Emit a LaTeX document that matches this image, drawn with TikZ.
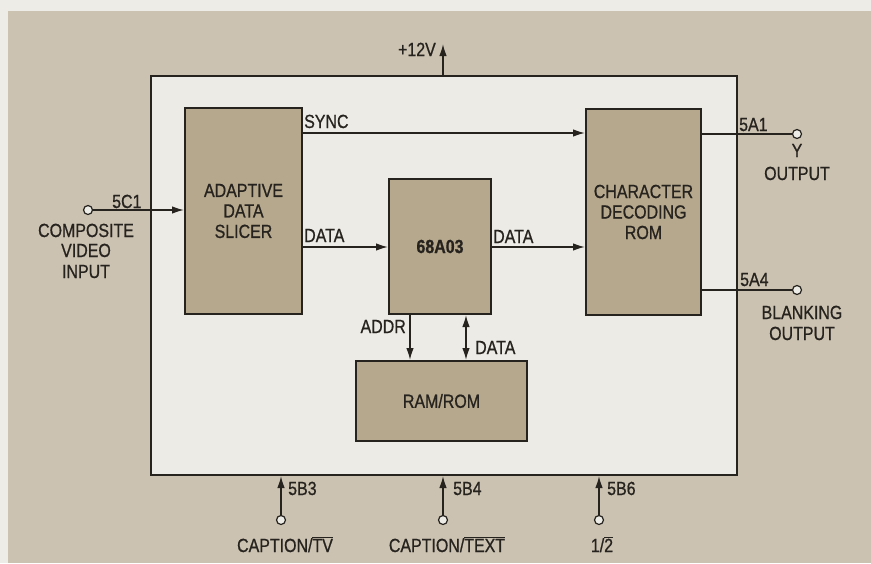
\documentclass[tikz,border=0pt]{standalone}
\usepackage{fontspec}
\setmainfont{Liberation Sans}[FakeStretch=0.84,FakeBold=0.8]
\usetikzlibrary{arrows.meta}
\definecolor{bgtan}{RGB}{203,194,177}
\definecolor{strip}{RGB}{238,236,230}
\definecolor{inner}{RGB}{236,235,229}
\definecolor{blkc}{RGB}{181,168,141}
\definecolor{ink}{RGB}{38,34,30}
\newcommand{\ovl}[1]{\leavevmode\vbox{\hrule height 0.8pt\kern1.2pt\hbox{#1}}}
\begin{document}
\begin{tikzpicture}[x=1pt,y=-1pt,
  font=\fontsize{19}{20.5}\selectfont,
  blk/.style={draw=ink, fill=blkc, line width=2pt, inner sep=0, align=center, anchor=north west, text=ink},
  wire/.style={line width=1.4pt, draw=ink},
  arr/.style={wire, -{Latex[length=12pt,width=7.5pt]}},
  darr/.style={wire, {Latex[length=12pt,width=7.5pt]}-{Latex[length=12pt,width=7.5pt]}},
  pin/.style={circle, draw=ink, line width=1.2pt, fill=inner, minimum size=9pt, inner sep=0},
  lbl/.style={inner sep=0, text=ink}]
\useasboundingbox (0,0) rectangle (871,563);
\fill[strip] (0,0) rectangle (871,563);
\fill[bgtan] (8,11) rectangle (871,563);
% chip outline
\node[draw=ink, fill=inner, line width=2pt, minimum width=586pt, minimum height=399pt, anchor=north west, inner sep=0] (chip) at (150,75) {};
% blocks
\node[blk, minimum width=117pt, minimum height=206pt] (slicer) at (184,107) {ADAPTIVE\\DATA\\SLICER};
\node[blk, minimum width=115pt, minimum height=206pt] (cdr) at (585,108) {CHARACTER\\DECODING\\ROM};
\node[blk, minimum width=102pt, minimum height=135pt] (cpu) at (388,178) {\bfseries 68A03};
\node[blk, minimum width=171pt, minimum height=80pt] (ram) at (355,360) {RAM/ROM};
% helper coordinates
\coordinate (ySync) at (0,133);
\coordinate (yData) at (0,247);
\coordinate (yA1) at (0,134);
\coordinate (yA4) at (0,290);
\coordinate (xAddr) at (410,0);
\coordinate (xDat) at (466,0);
\coordinate (v12) at (443,44);
% pins
\node[pin] (in) at (88,210) {};
\node[pin] (a1) at (797,134) {};
\node[pin] (a4) at (797,290) {};
\node[pin] (b3) at (281,520) {};
\node[pin] (b4) at (443,520) {};
\node[pin] (b6) at (599,520) {};
% connectors
\draw[arr] (slicer.east |- ySync) -- (cdr.west |- ySync);
\draw[arr] (slicer.east |- yData) -- (cpu.west |- yData);
\draw[arr] (cpu.east |- yData) -- (cdr.west |- yData);
\draw[wire] (cdr.east |- yA1) -- (a1.west);
\draw[wire] (cdr.east |- yA4) -- (a4.west);
\draw[arr] (in.east) -- (slicer.west |- in);
\draw[arr] (chip.north -| v12) -- (v12);
\draw[arr] (cpu.south -| xAddr) -- (ram.north -| xAddr);
\draw[darr] (cpu.south -| xDat) -- (ram.north -| xDat);
\draw[arr] (b3.north) -- (chip.south -| b3);
\draw[arr] (b4.north) -- (chip.south -| b4);
\draw[arr] (b6.north) -- (chip.south -| b6);
% labels
\node[lbl, anchor=base west] at (304,128) {SYNC};
\node[lbl, anchor=base west] at (304,242) {DATA};
\node[lbl, anchor=base west] at (493,243) {DATA};
\node[lbl, anchor=base west] at (739,131) {5A1};
\node[lbl, anchor=base west] at (740,286) {5A4};
\node[lbl, anchor=base west] at (112,208) {5C1};
\node[lbl, anchor=base east] at (436,56) {+12V};
\node[lbl, anchor=base east] at (406,333) {ADDR};
\node[lbl, anchor=base west] at (475,354) {DATA};
\node[lbl, anchor=base west] at (288,495) {5B3};
\node[lbl, anchor=base west] at (453,495) {5B4};
\node[lbl, anchor=base west] at (607,495) {5B6};
\node[lbl, anchor=base] at (285,552) {CAPTION/\ovl{TV}};
\node[lbl, anchor=base] at (447,552) {CAPTION/\ovl{TEXT}};
\node[lbl, anchor=base] at (602,552) {1/\ovl{2}};
\node[lbl, anchor=base] at (797,157) {Y};
\node[lbl, anchor=base] at (797,180) {OUTPUT};
\node[lbl, anchor=base] at (802,319) {BLANKING};
\node[lbl, anchor=base] at (802,340) {OUTPUT};
\node[lbl, anchor=base] at (86,237) {COMPOSITE};
\node[lbl, anchor=base] at (86,257) {VIDEO};
\node[lbl, anchor=base] at (86,278) {INPUT};
\end{tikzpicture}
\end{document}
